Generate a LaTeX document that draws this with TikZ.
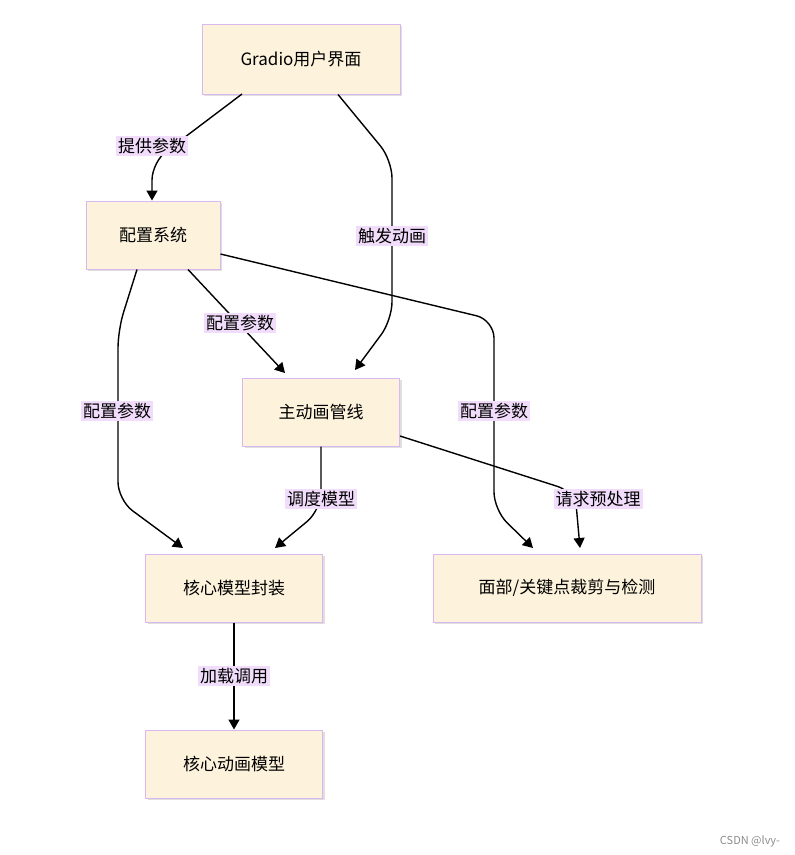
\documentclass[tikz,border=0pt]{standalone}
\usepackage{fontspec}
\setmainfont{Noto Sans CJK SC}
\usetikzlibrary{positioning,arrows.meta,shadows}
\definecolor{boxfill}{HTML}{FDF3DC}
\definecolor{boxline}{HTML}{D8B8EE}
\definecolor{lblfill}{HTML}{F1DCFB}
\begin{document}
\begin{tikzpicture}[x=1pt,y=-1pt,>={Triangle[length=10pt,width=11pt]},
  box/.style={shape=rectangle,draw=boxline,fill=boxfill,line width=1pt,
    drop shadow={shadow xshift=2pt,shadow yshift=-2pt,fill=black!25},
    minimum height=68pt,font=\fontsize{17}{20}\selectfont},
  lbl/.style={fill=lblfill,inner sep=2pt,font=\fontsize{17}{20}\selectfont},
  link/.style={line width=1.4pt,rounded corners=18pt}]
\useasboundingbox (0,0) rectangle (795,855);
\node[box,minimum width=198pt,minimum height=70pt] (gui) at (301,59) {Gradio用户界面};
\node[box,minimum width=134pt] (cfg) at (153,235) {配置系统};
\node[box,minimum width=157pt] (pipe) at (321,412) {主动画管线};
\node[box,minimum width=177pt] (wrap) at (234,588) {核心模型封装};
\node[box,minimum width=268pt] (crop) at (567,588) {面部/关键点裁剪与检测};
\node[box,minimum width=177pt] (core) at (234,764) {核心动画模型};

\draw[link,->] (242,94) -- (152,162) -- (cfg.north -| 152,0);
\draw[link,->] (gui.south -| 338,0) -- (392,160) -- (392,320) -- (355,370);
\draw[link,->] (cfg.south -| 188,0) -- (285,373);
\draw[link,->] (cfg.south -| 137,0) -- (118,330) -- (118,500) -- (183,548);
\draw[link,->] (cfg.east |- 0,254) -- (494,320) -- (494,510) -- (533,548);
\draw[link,->] (pipe.south) -- (321,510) -- (275,548);
\draw[link,->] (pipe.east |- 0,436) -- (575,492) -- (580,548);
\draw[link,->] (wrap.south) -- (core.north);

\node[lbl] (l1) at (152,146) {提供参数};
\node[lbl] (l2) at (392,236) {触发动画};
\node[lbl] (l3) at (240,323) {配置参数};
\node[lbl] (l4) at (117,411) {配置参数};
\node[lbl] (l5) at (494,411) {配置参数};
\node[lbl] (l6) at (321,499) {调度模型};
\node[lbl] (l7) at (598,499) {请求预处理};
\node[lbl] (l8) at (234,676) {加载调用};
\node[text=black!45,font=\fontsize{11}{13}\selectfont] (mark) at (750,841) {CSDN @lvy-};
\end{tikzpicture}
\end{document}
